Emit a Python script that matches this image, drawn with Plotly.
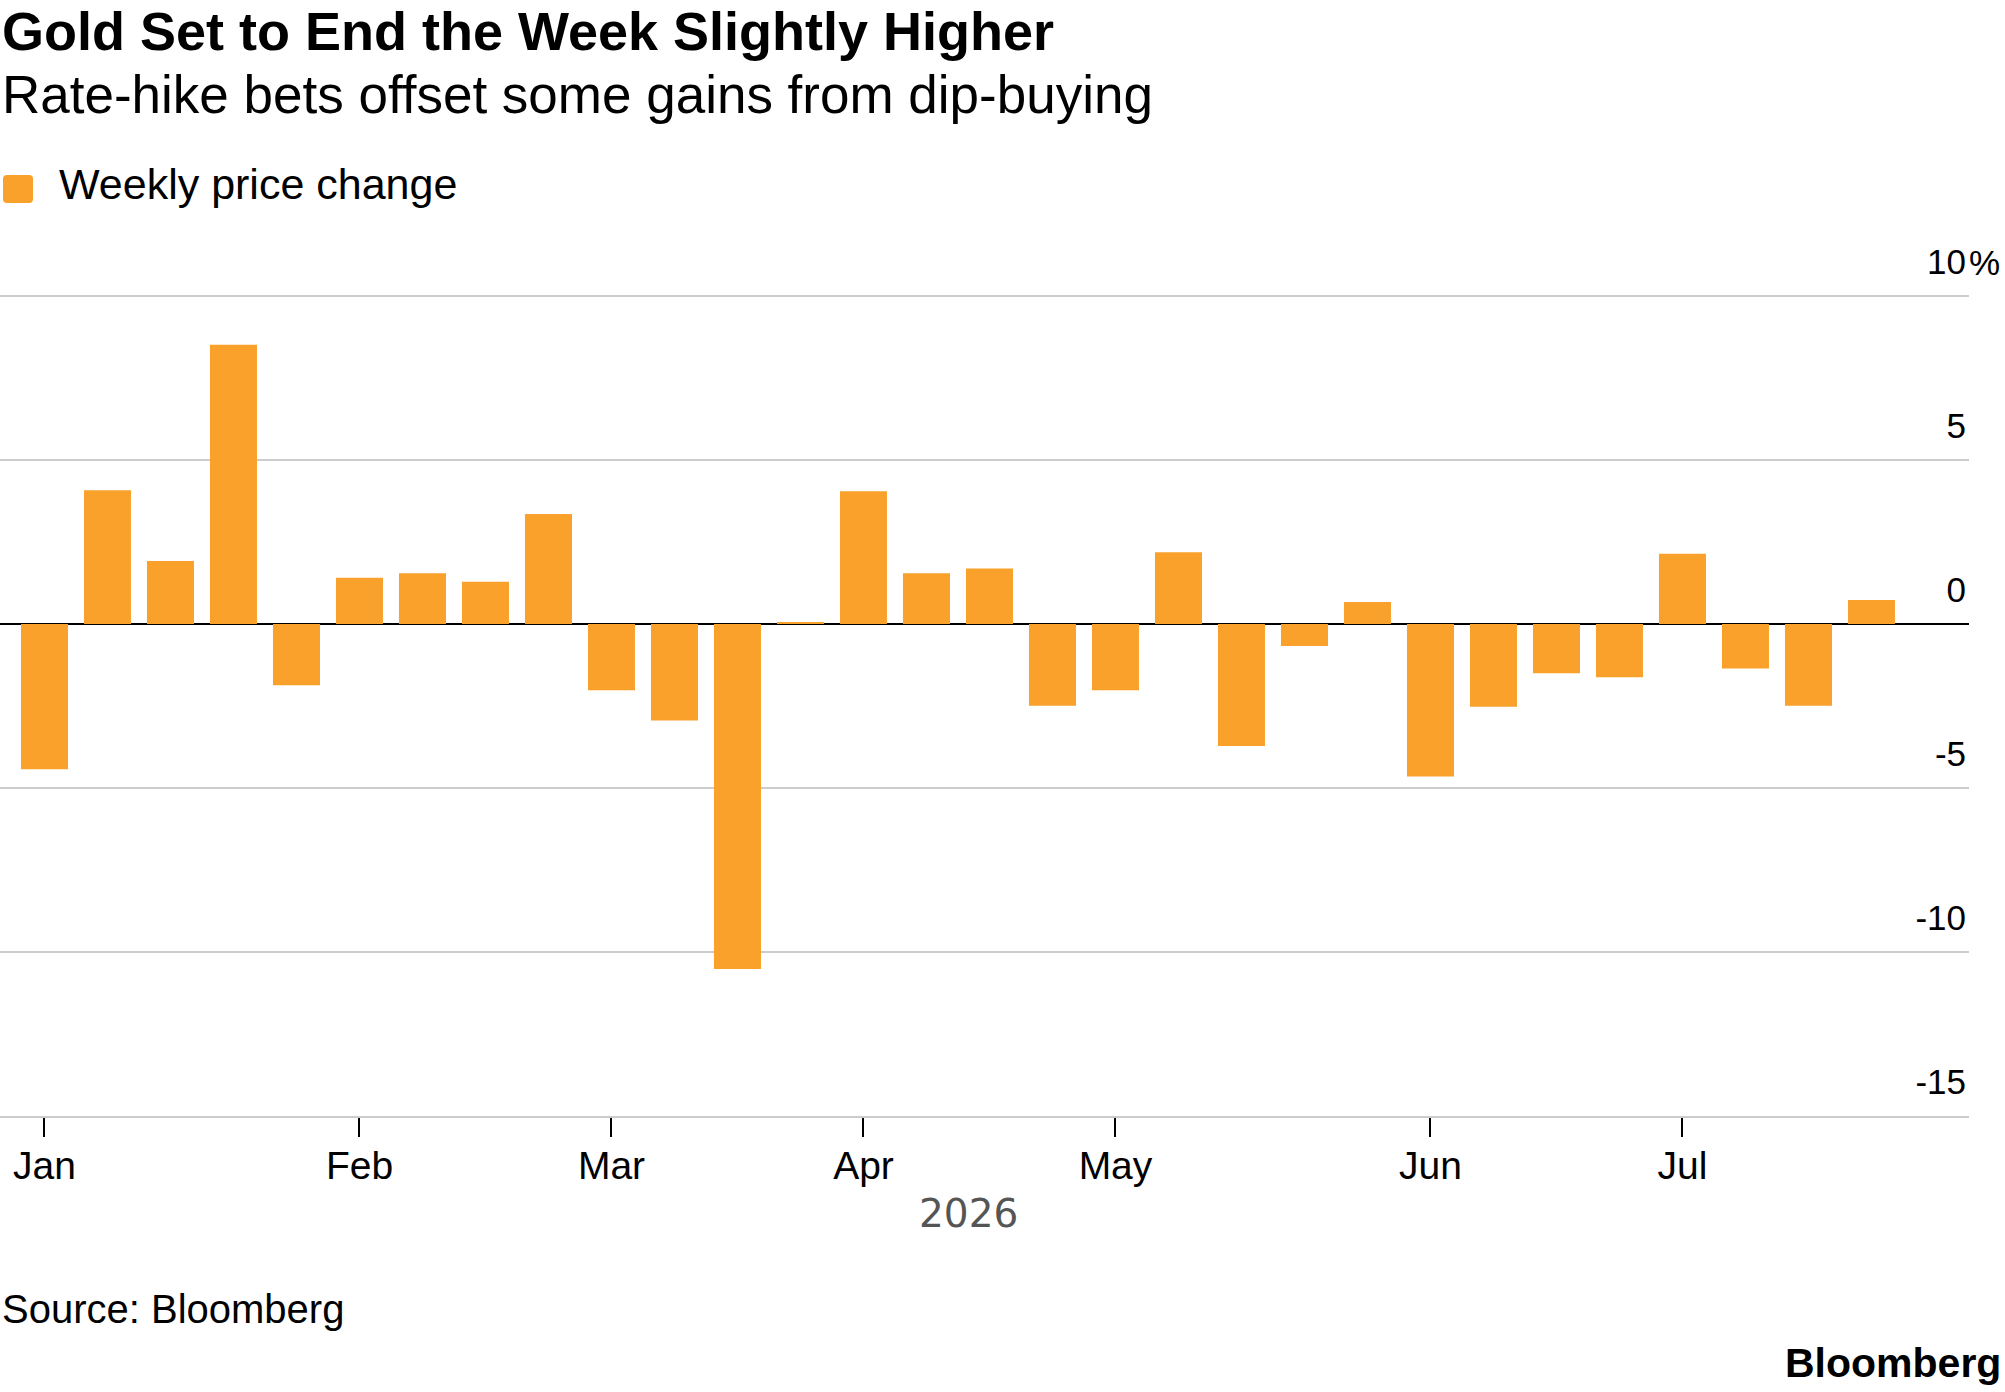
import plotly.graph_objects as go

# ---- data ----
weeks = [
    "2026-01-02", "2026-01-09", "2026-01-16", "2026-01-23", "2026-01-30",
    "2026-02-06", "2026-02-13", "2026-02-20", "2026-02-27",
    "2026-03-06", "2026-03-13", "2026-03-20", "2026-03-27",
    "2026-04-03", "2026-04-10", "2026-04-17", "2026-04-24",
    "2026-05-01", "2026-05-08", "2026-05-15", "2026-05-22", "2026-05-29",
    "2026-06-05", "2026-06-12", "2026-06-19", "2026-06-26",
    "2026-07-03", "2026-07-10", "2026-07-17", "2026-07-24",
]
weekly_change = [
    -4.43, 4.08, 1.92, 8.51, -1.87,
    1.41, 1.55, 1.29, 3.35,
    -2.02, -2.94, -10.52, 0.05,
    4.05, 1.55, 1.69, -2.49,
    -2.02, 2.19, -3.72, -0.67, 0.67,
    -4.65, -2.52, -1.50, -1.62,
    2.14, -1.36, -2.49, 0.73,
]
month_tick_weeks = ["2026-01-02", "2026-02-06", "2026-03-06", "2026-04-03",
                    "2026-05-01", "2026-06-05", "2026-07-03"]
month_labels = ["Jan", "Feb", "Mar", "Apr", "May", "Jun", "Jul"]
y_ticks = [-15, -10, -5, 0, 5, 10]
y_tick_labels = ["-15", "-10", "-5", "0", "5", "10"]

title = "Gold Set to End the Week Slightly Higher"
subtitle = "Rate-hike bets offset some gains from dip-buying"
series_name = "Weekly price change"
year_label = "2026"
source = "Source: Bloomberg"
brand = "Bloomberg"

ORANGE = "#F9A12B"
FONT = "Liberation Sans, Arial, Helvetica, sans-serif"

fig = go.Figure()
fig.add_trace(go.Bar(
    x=weeks, y=weekly_change, name=series_name,
    marker=dict(color=ORANGE, line=dict(width=0)),
    showlegend=False,
))

W, H = 2005, 1392
ML, MR, MT, MB = 0, 36, 292, 276
PH = H - MT - MB
PW = W - ML - MR
Y_TOP = -15 + 25 * PH / 820.0   # keeps 10 gridline inside the plot


def py(pix):
    return (H - MB - pix) / PH


fig.update_layout(
    width=W, height=H,
    margin=dict(l=ML, r=MR, t=MT, b=MB, pad=0),
    paper_bgcolor="white", plot_bgcolor="white",
    font=dict(family=FONT, color="black"),
    bargap=0.254,
    showlegend=False,
    xaxis=dict(
        type="category",
        range=[-0.706, len(weeks) - 1 + 1.548],
        tickmode="array", tickvals=month_tick_weeks, ticktext=month_labels,
        ticks="outside", ticklen=19, tickwidth=2, tickcolor="black",
        ticklabelstandoff=-5,
        tickfont=dict(size=39, color="black", family=FONT),
        showline=True, linecolor="#cccccc", linewidth=2,
        showgrid=False, zeroline=False, fixedrange=True,
    ),
    yaxis=dict(
        side="right",
        range=[-15, Y_TOP],
        tickmode="array", tickvals=y_ticks, ticktext=y_tick_labels,
        ticklabelposition="inside top", ticklabeloverflow="allow",
        ticklabelshift=-10,
        ticks="", tickfont=dict(size=35, color="black", family=FONT),
        showgrid=True, gridcolor="#cccccc", gridwidth=2,
        zeroline=True, zerolinecolor="black", zerolinewidth=2,
        showline=False, fixedrange=True,
    ),
)

annos = [
    dict(text="<b>%s</b>" % title, x=0, y=py(50 - 0.3465 * 54), xref="paper", yref="paper",
         xanchor="left", yanchor="middle", showarrow=False,
         font=dict(size=54, color="black", family=FONT)),
    dict(text=subtitle, x=0, y=py(113 - 0.3465 * 53), xref="paper", yref="paper",
         xanchor="left", yanchor="middle", showarrow=False,
         font=dict(size=53, color="black", family=FONT)),
    dict(text=series_name, x=57 / PW, y=py(199 - 0.3465 * 43), xref="paper", yref="paper",
         xanchor="left", yanchor="middle", showarrow=False,
         font=dict(size=43, color="black", family=FONT)),
    dict(text="%", x=1, y=10, xref="paper", yref="y",
         xanchor="left", yanchor="bottom", showarrow=False, yshift=12, xshift=-2,
         font=dict(size=35, color="black", family=FONT)),
    dict(text=year_label, x=968 / PW, y=py(1227 - 0.346 * 39), xref="paper", yref="paper",
         xanchor="center", yanchor="middle", showarrow=False,
         font=dict(size=39, color="#555555", family="DejaVu Sans, sans-serif")),
    dict(text=source, x=0, y=py(1323 - 0.3465 * 40), xref="paper", yref="paper",
         xanchor="left", yanchor="middle", showarrow=False,
         font=dict(size=40, color="black", family=FONT)),
    dict(text="<b>%s</b>" % brand, x=2003 / PW, y=py(1377 - 0.3465 * 41), xref="paper", yref="paper",
         xanchor="right", yanchor="middle", showarrow=False,
         font=dict(size=41, color="black", family=FONT)),
]
fig.update_layout(annotations=annos)

# legend swatch (rounded square)
r = 4
hw, hh = 15, 14
path = (f"M {-hw + r},{-hh} L {hw - r},{-hh} Q {hw},{-hh} {hw},{-hh + r} "
        f"L {hw},{hh - r} Q {hw},{hh} {hw - r},{hh} L {-hw + r},{hh} "
        f"Q {-hw},{hh} {-hw},{hh - r} L {-hw},{-hh + r} Q {-hw},{-hh} {-hw + r},{-hh} Z")
fig.add_shape(type="path", path=path, xref="paper", yref="paper",
              xsizemode="pixel", ysizemode="pixel",
              xanchor=18 / PW, yanchor=py(189),
              fillcolor=ORANGE, line=dict(width=0))

fig.write_html("out.html")
